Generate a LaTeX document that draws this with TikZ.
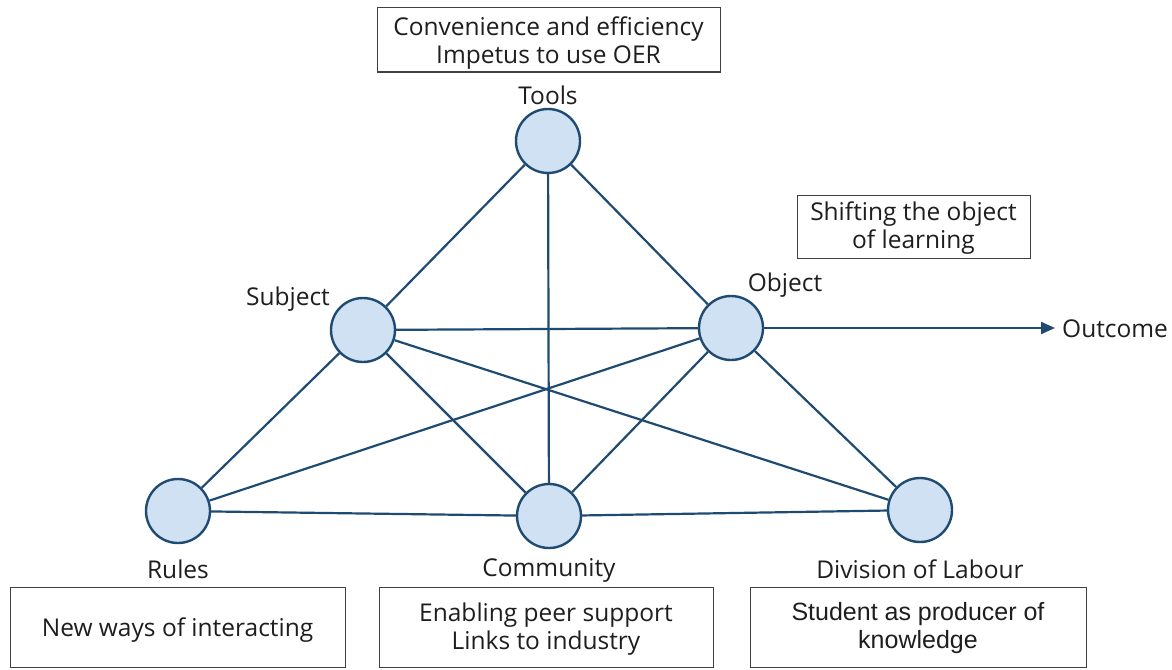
\documentclass[tikz,border=0pt]{standalone}
\usepackage{fontspec}
\setmainfont{Open Sans}
\newfontfamily\arialfont{Liberation Sans}
\usetikzlibrary{arrows.meta}

\definecolor{edgeblue}{HTML}{1F4B73}
\definecolor{fillblue}{HTML}{CFE1F3}
\definecolor{boxgrey}{HTML}{404040}
\definecolor{txtgrey}{HTML}{1E1E1E}

\tikzset{
  actor/.style={circle, draw=edgeblue, fill=fillblue, line width=2.4pt, minimum size=64pt, inner sep=0pt},
  link/.style={draw=edgeblue, line width=2.2pt},
  notebox/.style={draw=boxgrey, line width=1pt, inner sep=0pt},
  lbl/.style={text=txtgrey, inner sep=0pt, align=center}
}

\begin{document}
\begin{tikzpicture}[x=1pt, y=-1pt, font=\fontsize{24.5}{28}\selectfont]

\useasboundingbox (0,0) rectangle (1172,669);

% activity system nodes
\node[actor] (tools) at (548,141) {};
\node[actor] (subject) at (363,330) {};
\node[actor] (object) at (731,328) {};
\node[actor] (rules) at (178,511) {};
\node[actor] (community) at (549,516) {};
\node[actor] (labour) at (920,510) {};

\node[lbl] (toolslbl) at (548,95) {Tools};
\node[lbl] (subjectlbl) at (288,299) {Subject};
\node[lbl] (objectlbl) at (785,285) {Object};
\node[lbl] (ruleslbl) at (178,569) {Rules};
\node[lbl] (communitylbl) at (549,570) {Community};
\node[lbl] (labourlbl) at (920,569) {Division of Labour};
\node[lbl, anchor=west] (outcome) at (1062,329) {Outcome};
\coordinate (outtip) at (1055,328);

% connections
\draw[link] (tools) -- (subject);
\draw[link] (tools) -- (object);
\draw[link] (tools) -- (community);
\draw[link] (subject) -- (object);
\draw[link] (subject) -- (rules);
\draw[link] (subject) -- (community);
\draw[link] (subject) -- (labour);
\draw[link] (object) -- (rules);
\draw[link] (object) -- (community);
\draw[link] (object) -- (labour);
\draw[link] (rules) -- (community);
\draw[link] (community) -- (labour);

\draw[link, -{Triangle[length=14pt, width=12pt]}] (object) -- (outtip);

% annotation boxes
\node[notebox, minimum width=343pt, minimum height=64pt] (toolsbox) at (548.5,40) {};
\node[notebox, minimum width=233pt, minimum height=63pt] (objectbox) at (913.5,226.5) {};
\node[notebox, minimum width=335pt, minimum height=80pt] (rulesbox) at (177.5,627) {};
\node[notebox, minimum width=334pt, minimum height=80pt] (communitybox) at (546,627) {};
\node[notebox, minimum width=336pt, minimum height=80pt] (labourbox) at (918,627) {};

\node[lbl] at ([yshift=-3.5pt]toolsbox.center) {Convenience and efficiency\\Impetus to use OER};
\node[lbl] at ([yshift=-2pt]objectbox.center) {Shifting the object\\of learning};
\node[lbl] at ([yshift=-3.5pt]rulesbox.center) {New ways of interacting};
\node[lbl] at ([yshift=-2.5pt]communitybox.center) {Enabling peer support\\Links to industry};
\node[lbl, font=\arialfont\fontsize{25}{28}\selectfont] at ([yshift=-1.5pt]labourbox.center)
  {Student as producer of\\knowledge};

\end{tikzpicture}
\end{document}
